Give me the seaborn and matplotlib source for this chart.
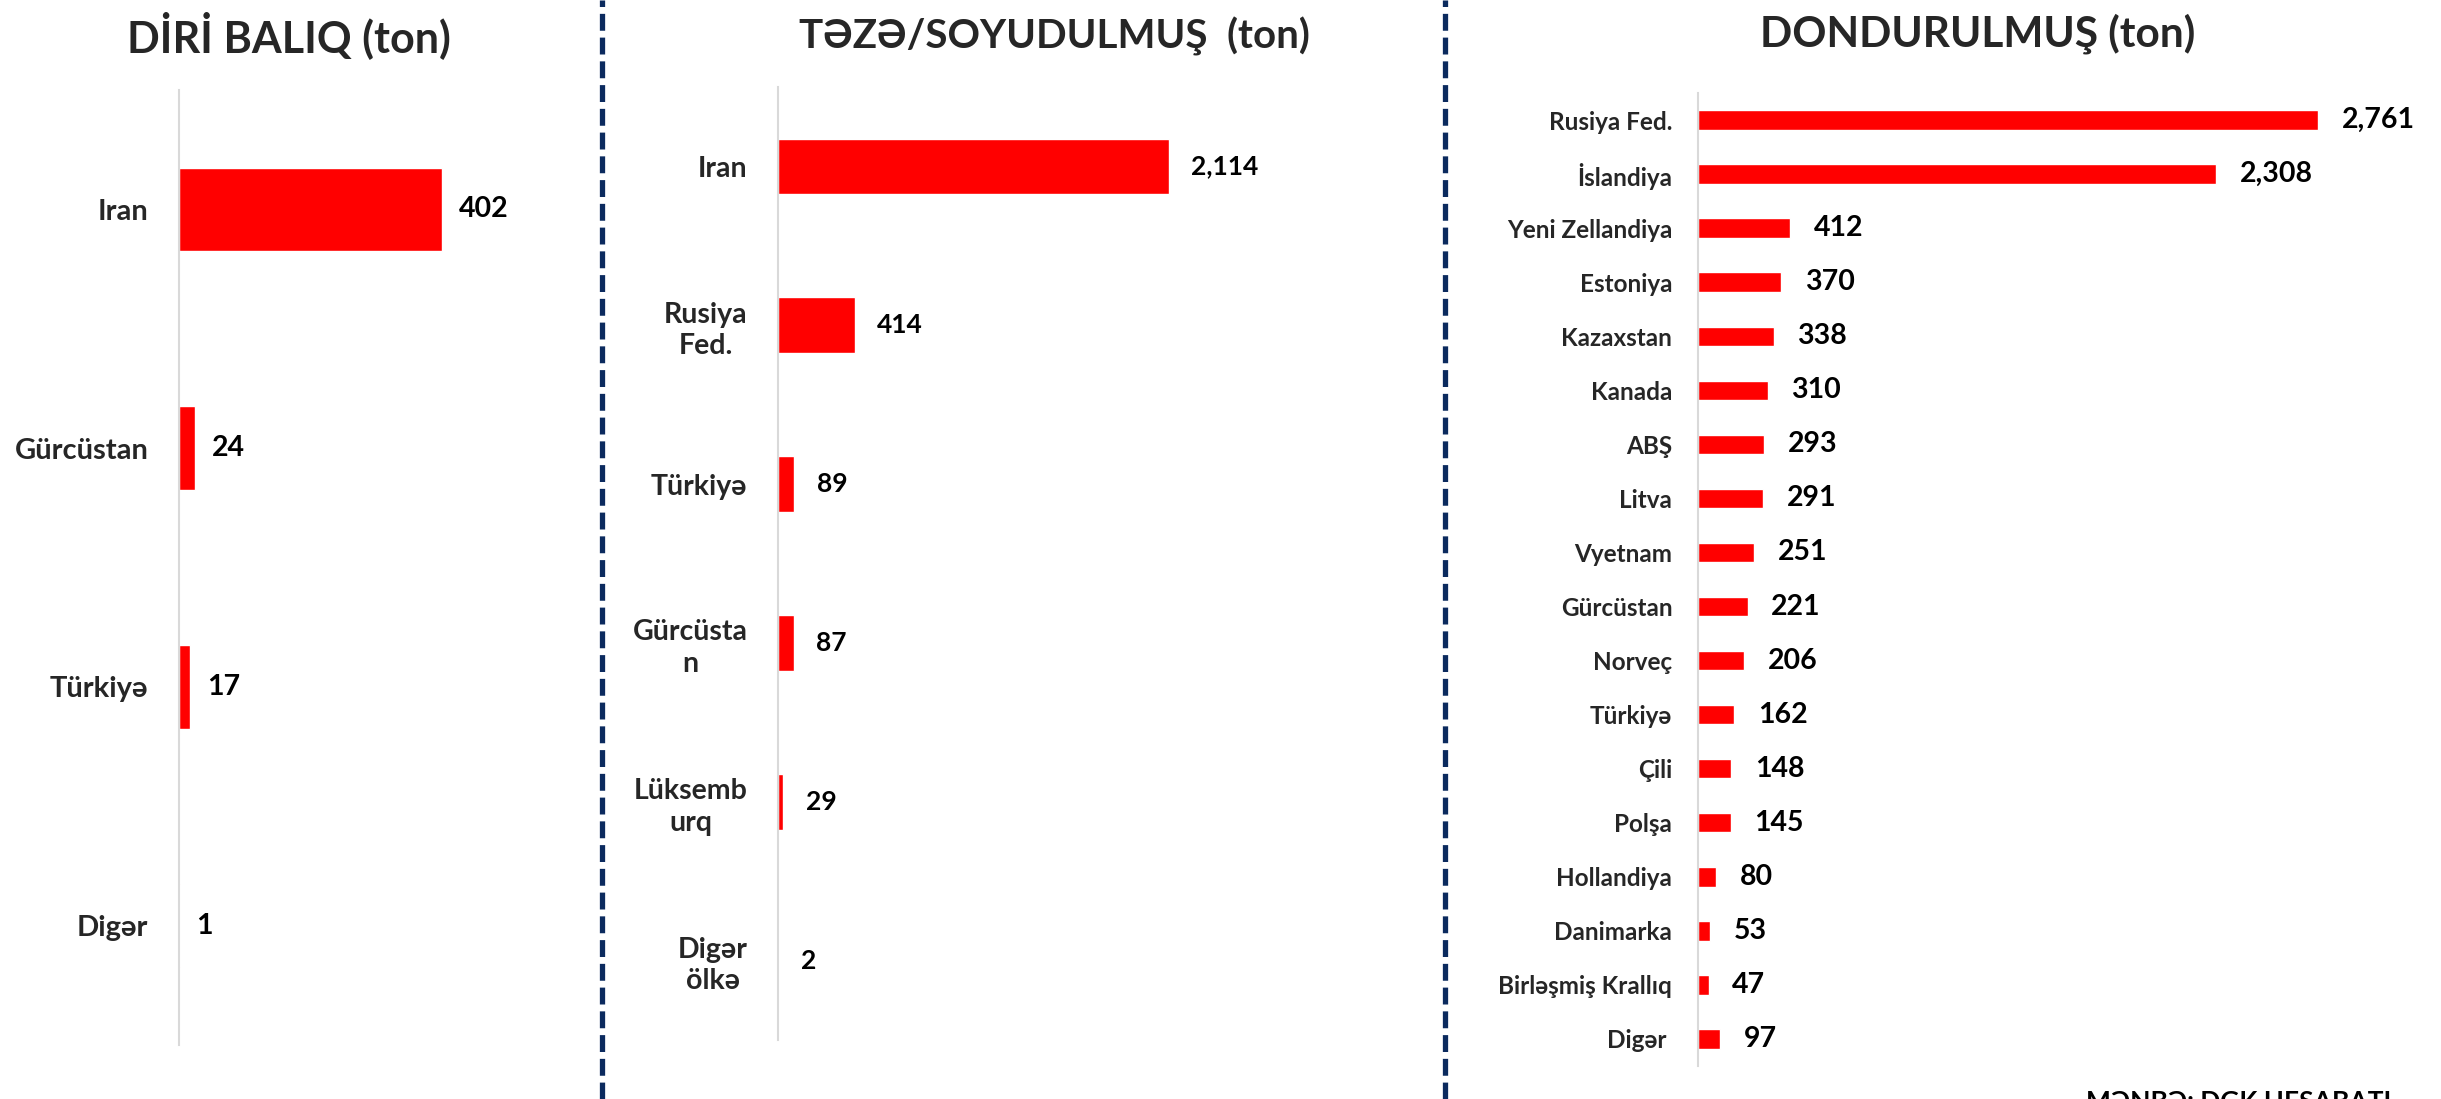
import seaborn as sns
import matplotlib.pyplot as plt
from matplotlib.lines import Line2D

# DİRİ BALIQ
live_countries = ['Iran', 'Gürcüstan', 'Türkiyə', 'Digər']
live_tons = [402, 24, 17, 1]

# TƏZƏ/SOYUDULMUŞ
fresh_countries = ['Iran', 'Rusiya\nFed.', 'Türkiyə', 'Gürcüsta\nn', 'Lüksemb\nurq', 'Digər\nölkə']
fresh_tons = [2114, 414, 89, 87, 29, 2]

# DONDURULMUŞ
frozen_countries = ['Rusiya Fed.', 'İslandiya', 'Yeni Zellandiya', 'Estoniya', 'Kazaxstan', 'Kanada',
                    'ABŞ', 'Litva', 'Vyetnam', 'Gürcüstan', 'Norveç', 'Türkiyə', 'Çili', 'Polşa',
                    'Hollandiya', 'Danimarka', 'Birləşmiş Krallıq', 'Digər ']
frozen_tons = [2761, 2308, 412, 370, 338, 310, 293, 291, 251, 221, 206, 162, 148, 145, 80, 53, 47, 97]

titles = ['DİRİ BALIQ (ton)', 'TƏZƏ/SOYUDULMUŞ  (ton)', 'DONDURULMUŞ (ton)']
source_text = 'MƏNBƏ: DGK HESABATI'

W, H = 2441, 1099
sns.set_theme(style='white')
plt.rcParams['font.family'] = ['Lato', 'DejaVu Sans']
plt.rcParams['font.weight'] = 'bold'

fig = plt.figure(figsize=(W / 100, H / 100), dpi=100)


def panel(names, values, box, px_per_ton, bar_w, label_size, value_size, label_pad, value_pad):
    left, top, bottom, right = box
    ax = fig.add_axes([left / W, 1 - bottom / H, (right - left) / W, (bottom - top) / H])
    sns.barplot(x=values, y=names, orient='h', color='#FF0000', saturation=1,
                width=bar_w, ax=ax)
    ax.set_xlim(0, (right - left) / px_per_ton)
    ax.set_ylim(len(names) - 0.5, -0.5)
    ax.set(xlabel='', ylabel='', xticks=[])
    for s in ['top', 'right', 'bottom']:
        ax.spines[s].set_visible(False)
    ax.spines['left'].set_color('#D9D9D9')
    ax.spines['left'].set_linewidth(1.5)
    ax.tick_params(axis='y', length=0, pad=label_pad, labelsize=label_size)
    for t in ax.get_yticklabels():
        t.set_fontweight('bold')
        t.set_multialignment('center')
        t.set_linespacing(1.25)
    ax.bar_label(ax.containers[0], labels=[f'{v:,}' for v in values], padding=value_pad,
                 fontsize=value_size, fontweight='bold', color='black')
    ax.patch.set_alpha(0)
    return ax


panel(live_countries, live_tons, (179, 90, 1045, 560), 0.655, 0.35, 21, 20.5, 22, 12)
panel(fresh_countries, fresh_tons, (778, 87, 1040, 1420), 0.185, 0.35, 20.5, 19, 22, 16)
panel(frozen_countries, frozen_tons, (1698, 93, 1066, 2430), 0.2245, 0.36, 17.5, 20.5, 18.5, 17)

# panel titles
fig.text(289 / W, 1 - 52 / H, titles[0], ha='center', va='baseline', fontsize=31, fontweight='bold')
fig.text(1054 / W, 1 - 48 / H, titles[1], ha='center', va='baseline', fontsize=29, fontweight='bold')
fig.text(1978 / W, 1 - 47 / H, titles[2], ha='center', va='baseline', fontsize=30.5, fontweight='bold')

# dashed separators
for xp in [602, 1445]:
    fig.add_artist(Line2D([xp / W, xp / W], [0, 1], transform=fig.transFigure,
                          color='#0B2A5E', linewidth=3.8, linestyle=(0, (3.2, 1.3))))

# source note, cut off at the bottom edge as in the original
fig.text(2086 / W, 1 - 1090 / H, source_text, ha='left', va='top', fontsize=19,
         fontweight='bold', color='black')

fig.savefig('out.png', dpi=100)
